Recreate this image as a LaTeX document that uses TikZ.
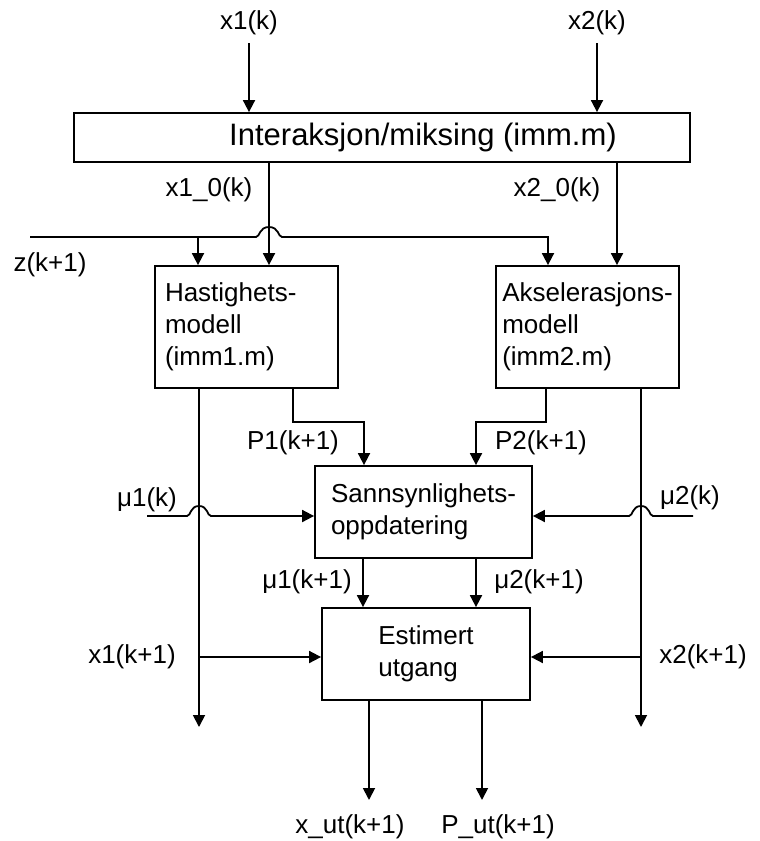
\documentclass[tikz,border=0pt]{standalone}
\usepackage{fontspec}
\setmainfont{Liberation Sans}
\usetikzlibrary{arrows.meta}
\begin{document}
\begin{tikzpicture}[x=1pt,y=-1pt,
  line width=1.8pt,
  arr/.style={-{Triangle[length=12pt,width=12pt]}},
  box/.style={draw, rectangle, inner sep=0pt, align=left, font=\fontsize{26}{32}\selectfont},
  lbl/.style={inner sep=2pt, font=\fontsize{26}{32}\selectfont}]
\useasboundingbox (0,0) rectangle (760,841);

% boxes
\node[box, minimum width=616pt, minimum height=49pt, font=\fontsize{31}{37}\selectfont] (top) at (382,137.5) {\hspace*{82pt}Interaksjon/miksing (imm.m)};
\node[box, text width=163pt, inner xsep=10pt, minimum height=122pt] (hast) at (246.5,327) {Hastighets-\\modell\\(imm1.m)};
\node[box, minimum width=183pt, minimum height=122pt] (aksel) at (587.5,327) {Akselerasjons-\\modell\\(imm2.m)};
\node[box, minimum width=217pt, minimum height=92pt] (sann) at (423.5,512) {Sannsynlighets-\\oppdatering};
\node[box, minimum width=208pt, minimum height=92pt] (est) at (426,654) {Estimert\\utgang};

% labels
\node[lbl] (x1k) at (249,23) {x1(k)};
\node[lbl] (x2k) at (597,23) {x2(k)};
\node[lbl] (x10) at (209,190) {x1\_0(k)};
\node[lbl] (x20) at (557,190) {x2\_0(k)};
\node[lbl] (zk) at (50,265) {z(k+1)};
\node[lbl] (p1) at (293,443) {P1(k+1)};
\node[lbl] (p2) at (541,443) {P2(k+1)};
\node[lbl] (mu1k) at (147,500) {μ1(k)};
\node[lbl] (mu2k) at (690,498) {μ2(k)};
\node[lbl] (mu1k1) at (307,582) {μ1(k+1)};
\node[lbl] (mu2k1) at (539,582) {μ2(k+1)};
\node[lbl] (x1k1) at (132,657) {x1(k+1)};
\node[lbl] (x2k1) at (703,657) {x2(k+1)};
\node[lbl] (xut) at (350,827) {x\_ut(k+1)};
\node[lbl] (put) at (498,827) {P\_ut(k+1)};

% helper coordinates
\coordinate (vx10) at (269,0);
\coordinate (vx20) at (617,0);
\coordinate (vz1) at (198,0);
\coordinate (vz2) at (548,0);
\coordinate (vh2) at (293,0);
\coordinate (vs1) at (364,0);
\coordinate (va1) at (546,0);
\coordinate (vs2) at (476,0);
\coordinate (jog) at (0,422);
\coordinate (zs) at (30,237);
\coordinate (e1) at (199,727);
\coordinate (e2) at (641,727);
\coordinate (m1) at (147,516);
\coordinate (m2) at (693,516);
\coordinate (j1) at (199,657);
\coordinate (j2) at (641,657);
\coordinate (o1) at (369,800);
\coordinate (o2) at (482,800);
\coordinate (d1) at (363,0);
\coordinate (d2) at (476,0);

% inputs to top box
\draw[arr, shorten <=5pt] (x1k.south) -- (x1k.south |- top.north);
\draw[arr, shorten <=5pt] (x2k.south) -- (x2k.south |- top.north);

% top box outputs
\draw[arr] (vx10 |- top.south) -- (vx10 |- hast.north);
\draw[arr] (vx20 |- top.south) -- (vx20 |- aksel.north);

% z line with hop
\draw[arr] (zs) -- (256,237) .. controls (260,237) and (259,227) .. (269,227)
  .. controls (279,227) and (278,237) .. (282,237) -- (vz2 |- zs) -- (vz2 |- aksel.north);
\draw[arr] (vz1 |- zs) -- (vz1 |- hast.north);

% model outputs
\draw[arr] (e1 |- hast.south) -- (e1);
\draw[arr] (vh2 |- hast.south) |- (vs1 |- jog) -- (vs1 |- sann.north);
\draw[arr] (va1 |- aksel.south) |- (vs2 |- jog) -- (vs2 |- sann.north);
\draw[arr] (e2 |- aksel.south) -- (e2);

% mu inputs with hops
\draw[arr] (m1) -- (187,516) .. controls (191,516) and (190,506) .. (199,506)
  .. controls (208,506) and (207,516) .. (211,516) -- (m1 -| sann.west);
\draw[arr] (m2) -- (653,516) .. controls (649,516) and (650,506) .. (641,506)
  .. controls (632,506) and (633,516) .. (629,516) -- (m2 -| sann.east);

% sann to est
\draw[arr] (d1 |- sann.south) -- (d1 |- est.north);
\draw[arr] (d2 |- sann.south) -- (d2 |- est.north);

% x(k+1) into est
\draw[arr] (j1) -- (j1 -| est.west);
\draw[arr] (j2) -- (j2 -| est.east);

% outputs
\draw[arr] (o1 |- est.south) -- (o1);
\draw[arr] (o2 |- est.south) -- (o2);
\end{tikzpicture}
\end{document}
